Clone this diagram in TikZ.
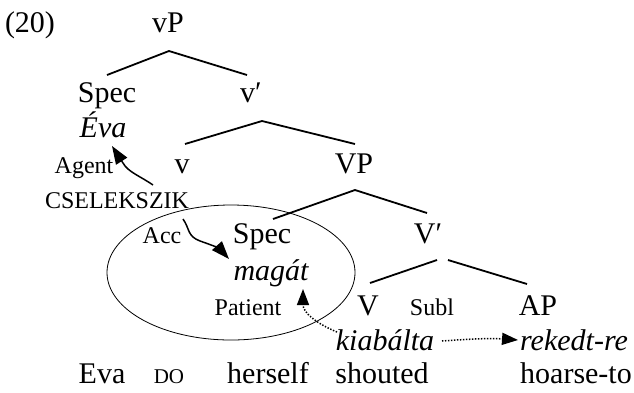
\documentclass[tikz,border=0pt]{standalone}
\usepackage{fontspec}
\setmainfont{Liberation Serif}
\usetikzlibrary{arrows.meta}
\tikzset{
  big/.style={font=\fontsize{30}{30}\selectfont, inner sep=0pt, anchor=base},
  sml/.style={font=\fontsize{24}{24}\selectfont, inner sep=0pt, anchor=base},
  tiny/.style={font=\fontsize{21}{21}\selectfont, inner sep=0pt, anchor=base},
  branch/.style={line width=1.8pt},
  arr/.style={line width=1.5pt, -{Triangle[length=18pt,width=13pt]}},
  dotarr/.style={line width=1.5pt, dash pattern=on 1.4pt off 1.6pt, -{Triangle[length=16pt,width=12pt]}},
}
\begin{document}
\begin{tikzpicture}[x=1pt,y=-1pt]
\useasboundingbox (0,0) rectangle (634,392);
% nodes
\node[big] (num) at (30,32) {(20)};
\node[big] (vP) at (168,32) {vP};
\node[big] (spec1) at (107,102) {Spec};
\node[big] (vbar) at (251,102) {v′};
\node[big] (eva1) at (103,137) {\itshape Éva};
\node[sml] (agent) at (84,173) {Agent};
\node[big] (v) at (182,173) {v};
\node[big] (VP) at (354,173) {VP};
\node[sml] (csel) at (117,208) {CSELEKSZIK};
\node[sml] (acc) at (162,243) {Acc};
\node[big] (spec2) at (262,243) {Spec};
\node[big] (Vbar) at (428,243) {V′};
\node[big] (magat) at (271,280) {\itshape magát};
\node[sml] (patient) at (248,315) {Patient};
\node[big] (V) at (368,315) {V};
\node[sml] (subl) at (432,315) {Subl};
\node[big] (AP) at (538,315) {AP};
\node[big] (kiab) at (385,350) {\itshape kiabálta};
\node[big] (rek) at (574,350) {\itshape rekedt-re};
\node[big] (eva2) at (102,383) {Eva};
\node[tiny] (do) at (169,383) {DO};
\node[big] (herself) at (268,383) {herself};
\node[big] (shouted) at (382,383) {shouted};
\node[big] (hoarse) at (576,383) {hoarse-to};
% ellipse
\draw[line width=0.8pt] (231,272.5) ellipse [x radius=124, y radius=67.5];
% branch coordinates
\coordinate (vPl) at (107,75);
\coordinate (vPt) at (169,51);
\coordinate (vPr) at (247,75);
\coordinate (vbl) at (185,144);
\coordinate (vbt) at (262,121);
\coordinate (vbr) at (355,144);
\coordinate (VPl) at (273,219);
\coordinate (VPt) at (355,190);
\coordinate (VPr) at (427,213);
\coordinate (Vbl) at (370,283);
\coordinate (Vbt1) at (437,260);
\coordinate (Vbt2) at (448,260);
\coordinate (Vbr) at (527,284);
\draw[branch] (vPl) -- (vPt) -- (vPr);
\draw[branch] (vbl) -- (vbt) -- (vbr);
\draw[branch] (VPl) -- (VPt) -- (VPr);
\draw[branch] (Vbl) -- (Vbt1);
\draw[branch] (Vbt2) -- (Vbr);
% arrows
\coordinate (agS) at (153,185);
\coordinate (agE) at (112,146);
\draw[arr] (agS) .. controls (140,176) and (128,172) .. (123,163) .. controls (119,157) .. (agE);
\coordinate (acS) at (183,219);
\coordinate (acE) at (229,259);
\draw[arr] (acS) .. controls (190,229) and (187,236) .. (200,241) .. controls (212,245) and (220,249) .. (acE);
\coordinate (paS) at (337,332);
\coordinate (paE) at (303,289);
\draw[dotarr] (paS) .. controls (315,323) and (303,312) .. (paE);
\coordinate (suS) at (442,341);
\coordinate (suE) at (518,340);
\draw[dotarr] (suS) .. controls (470,339) and (490,338) .. (suE);
\end{tikzpicture}
\end{document}
